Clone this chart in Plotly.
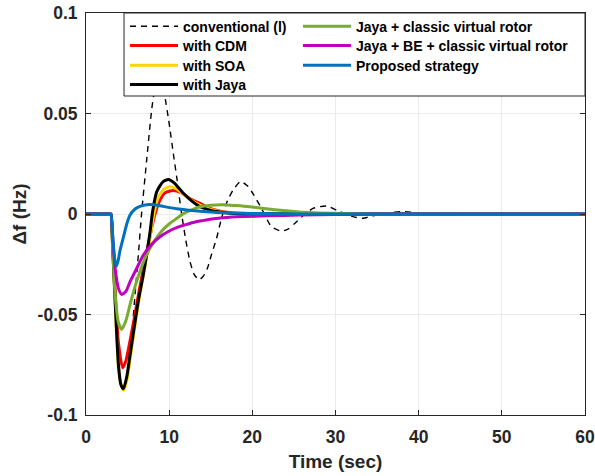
import plotly.graph_objects as go

# ---------------- data ----------------
t_conv = [0, 2.9, 3.0, 3.2, 3.5, 3.9, 4.3, 4.6, 5.0, 5.5, 5.9, 6.3, 6.7, 7.3, 7.9, 8.3, 8.7,
          9.1, 9.5, 10.0, 10.5, 10.9, 11.5, 12.0, 12.5, 13.0, 13.6, 14.1, 14.6, 15.1,
          15.7, 16.3, 17.0, 17.7, 18.6, 19.4, 20.1, 21.1, 22.3, 23.5, 24.3, 25.1, 26.2,
          27.3, 28.9, 30.5, 32.1, 33.3, 34.9, 36.5, 38.3, 40.5, 43.1, 46.0, 50.0, 60.0]
v_conv = [0, 0, 0, -0.018, -0.048, -0.075, -0.086, -0.087, -0.079, -0.060, -0.040, -0.020,
          0.001, 0.027, 0.052, 0.063, 0.068, 0.066, 0.058, 0.045, 0.030, 0.0186, 0.0,
          -0.013, -0.0235, -0.030, -0.0327, -0.031, -0.027, -0.020, -0.0121, -0.002,
          0.0065, 0.012, 0.0162, 0.0140, 0.0100, 0.0028, -0.0063, -0.0085, -0.0075,
          -0.0047, -0.0005, 0.0028, 0.0040, 0.0012, -0.0013, -0.0021, -0.0005, 0.0007,
          0.0012, 0.0002, -0.0005, 0.0001, 0, 0]

t_cdm = [0, 2.9, 3.0, 3.2, 3.5, 3.9, 4.4, 4.8, 5.3, 5.8, 6.4, 7.0, 7.5, 8.0, 8.3, 8.8, 9.5,
         10.5, 11.5, 12.7, 13.7, 14.9, 16.0, 17.5, 19.5, 23.0, 60]
v_cdm = [0, 0, 0, -0.014, -0.038, -0.064, -0.0765, -0.073, -0.063, -0.052, -0.038, -0.025,
         -0.015, -0.005, 0.0, 0.006, 0.0105, 0.0117, 0.0105, 0.0072, 0.0053, 0.0028,
         0.0015, 0.0006, 0.0002, 0, 0]

t_soa = [0, 2.9, 3.0, 3.2, 3.5, 3.9, 4.25, 4.55, 4.95, 5.35, 5.8, 6.4, 7.0, 7.4, 7.8, 8.15,
         8.7, 9.4, 10.1, 10.8, 11.8, 12.8, 13.8, 14.8, 16.0, 17.5, 20.0, 23.0, 60]
v_soa = [0, 0, 0, -0.016, -0.044, -0.076, -0.0855, -0.0875, -0.082, -0.071, -0.058, -0.042,
         -0.028, -0.019, -0.009, 0.0, 0.0085, 0.0125, 0.0136, 0.0127, 0.0095, 0.0065,
         0.0042, 0.0025, 0.0013, 0.0005, 0.0001, 0, 0]

t_jaya = [0, 2.9, 3.0, 3.2, 3.5, 3.9, 4.2, 4.5, 4.9, 5.3, 5.7, 6.3, 6.9, 7.3, 7.7, 8.0, 8.5,
          9.2, 9.9, 10.6, 11.7, 12.7, 13.7, 14.7, 15.7, 17.0, 19.0, 22.0, 60]
v_jaya = [0, 0, 0, -0.016, -0.043, -0.075, -0.085, -0.087, -0.081, -0.070, -0.059, -0.043,
          -0.030, -0.020, -0.009, 0.001, 0.011, 0.0158, 0.0172, 0.0155, 0.0103, 0.0065,
          0.0036, 0.0022, 0.0012, 0.0005, 0.0001, 0, 0]

t_jcvr = [0, 2.9, 3.0, 3.2, 3.5, 3.9, 4.3, 4.8, 5.3, 5.9, 6.5, 7.1, 7.7, 8.3, 8.9, 9.5, 10.1,
          10.9, 11.7, 12.5, 13.7, 15.0, 16.5, 18.0, 19.7, 21.7, 23.7, 25.7, 28.0, 31.0,
          35.0, 60]
v_jcvr = [0, 0, 0, -0.016, -0.040, -0.054, -0.0574, -0.053, -0.045, -0.036, -0.0285, -0.022,
          -0.017, -0.013, -0.0095, -0.0068, -0.0046, -0.0022, 0.0002, 0.0017, 0.0036,
          0.0044, 0.0046, 0.0042, 0.0036, 0.0026, 0.0017, 0.0010, 0.0005, 0.0002, 0, 0]

t_jbe = [0, 2.9, 3.0, 3.2, 3.5, 3.9, 4.3, 4.8, 5.3, 6.1, 6.9, 7.9, 8.9, 9.9, 10.9, 12.0, 12.9,
         14.0, 14.9, 16.5, 18.9, 21.7, 25.7, 30.0, 35.0, 60]
v_jbe = [0, 0, 0, -0.011, -0.027, -0.037, -0.0400, -0.0385, -0.0337, -0.027, -0.0204,
         -0.0150, -0.0113, -0.0087, -0.0068, -0.0053, -0.0042, -0.0033, -0.0026,
         -0.0019, -0.0013, -0.0009, -0.0005, -0.0002, 0, 0]

t_prop = [0, 2.9, 3.0, 3.1, 3.3, 3.5, 3.65, 3.85, 4.1, 4.5, 4.9, 5.3, 5.9, 6.5, 7.3, 8.1, 8.9,
          9.9, 10.9, 11.7, 13.0, 14.5, 15.7, 17.5, 19.7, 23.0, 28.0, 60]
v_prop = [0, 0, 0, -0.004, -0.016, -0.024, -0.026, -0.0235, -0.018, -0.0115, -0.005,
          -0.0005, 0.0025, 0.0038, 0.0046, 0.0046, 0.0041, 0.0033, 0.0026, 0.0022,
          0.0016, 0.0011, 0.0008, 0.0005, 0.0003, 0.0001, 0, 0]

x_tick_vals = [0, 10, 20, 30, 40, 50, 60]
x_tick_text = ["0", "10", "20", "30", "40", "50", "60"]
y_tick_vals = [-0.1, -0.05, 0, 0.05, 0.1]
y_tick_text = ["-0.1", "-0.05", "0", "0.05", "0.1"]

# ---------------- figure ----------------
FONT = "Liberation Sans, Arial, sans-serif"
AX = "#262626"

# legend slot (column, row) for every series: two columns like the reference
series = [
    # name, t, v, color, width, dash, (col, row)
    ("conventional (l)", t_conv, v_conv, "#000000", 1.4, "6px,5px", (0, 0)),
    ("with CDM", t_cdm, v_cdm, "#ff0000", 3, "solid", (0, 1)),
    ("with SOA", t_soa, v_soa, "#ffd500", 3, "solid", (0, 2)),
    ("with Jaya", t_jaya, v_jaya, "#000000", 3, "solid", (0, 3)),
    ("Jaya + classic virtual rotor", t_jcvr, v_jcvr, "#77ac30", 3, "solid", (1, 0)),
    ("Jaya + BE + classic virtual rotor", t_jbe, v_jbe, "#c000c0", 3, "solid", (1, 1)),
    ("Proposed strategy", t_prop, v_prop, "#0072bd", 3, "solid", (1, 2)),
]

col_x = [0.0782, 0.4248]
row_y = [0.9659, 0.9179, 0.8689, 0.8209]

fig = go.Figure()
legends = {}
for i, (name, t, v, col, w, dash, (c, r)) in enumerate(series):
    key = "legend" if i == 0 else f"legend{i + 1}"
    fig.add_trace(go.Scatter(
        x=t, y=v, name=name, mode="lines", showlegend=True,
        line=dict(color=col, width=w, dash=dash, shape="spline", smoothing=0.6),
        legend=key,
    ))
    legends[key] = dict(
        bgcolor="rgba(0,0,0,0)", borderwidth=0,
        font=dict(family=FONT, size=14, color="#000000", weight="bold"),
        x=col_x[c], y=row_y[r], xanchor="left", yanchor="middle",
        itemwidth=48,
    )

fig.update_layout(
    width=595, height=476, showlegend=True,
    margin=dict(l=86, r=10, t=13, b=61, autoexpand=False),
    paper_bgcolor="white", plot_bgcolor="white",
    font=dict(family=FONT, color=AX),
    shapes=[dict(type="rect", xref="paper", yref="paper", x0=0.0762, x1=1.0,
                 y0=1 - 83 / 402, y1=1.0, fillcolor="white",
                 line=dict(color="#262626", width=1), layer="above")],
    xaxis=dict(
        range=[0, 60], tickvals=x_tick_vals, ticktext=x_tick_text, automargin=False,
        showgrid=True, gridcolor="#ebebeb", gridwidth=1, zeroline=False,
        showline=True, linecolor=AX, linewidth=1, mirror="ticks",
        ticks="inside", ticklen=5, tickcolor=AX,
        tickfont=dict(family=FONT, size=17.5, color=AX, weight="bold"),
        ticklabelstandoff=6,
        title=dict(text="Time (sec)", standoff=8,
                   font=dict(family=FONT, size=19, color=AX, weight="bold")),
    ),
    yaxis=dict(
        range=[-0.1, 0.1], tickvals=y_tick_vals, ticktext=y_tick_text, automargin=False,
        showgrid=True, gridcolor="#ebebeb", gridwidth=1, zeroline=False,
        showline=True, linecolor=AX, linewidth=1, mirror="ticks",
        ticks="inside", ticklen=5, tickcolor=AX,
        tickfont=dict(family=FONT, size=17.5, color=AX, weight="bold"),
        ticklabelstandoff=4,
        title=dict(text="Δf (Hz)", standoff=5,
                   font=dict(family=FONT, size=19, color=AX, weight="bold")),
    ),
)
fig.update_layout(**legends)

fig.write_html("out.html", config={"displayModeBar": False},
               post_script="document.body.style.margin='0px';")
